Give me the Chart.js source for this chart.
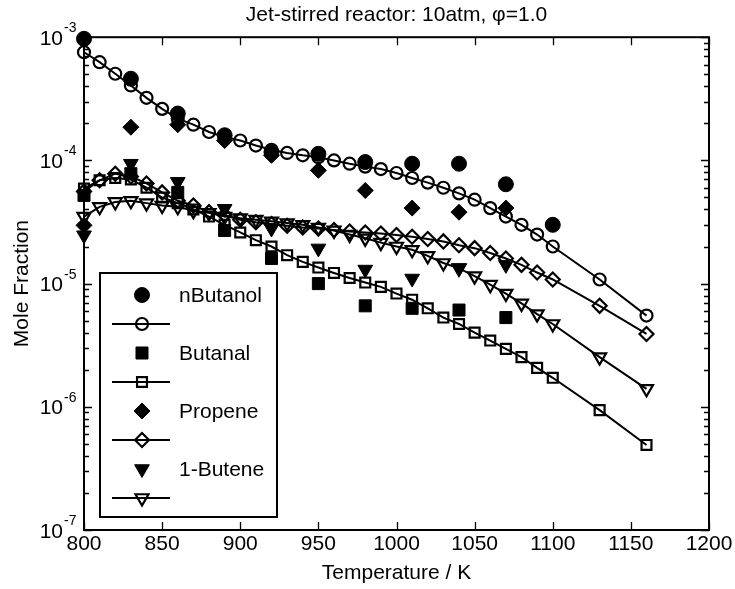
<!DOCTYPE html>
<html><head><meta charset="utf-8">
<script src="https://cdn.jsdelivr.net/npm/chart.js@4/dist/chart.umd.min.js"></script>
<style>html,body{margin:0;padding:0;background:#fff}#wrap{width:735px;height:589px}</style>
</head><body><div id="wrap"><canvas id="c" width="735" height="589"></canvas></div>
<script>
// ---- data ----
const tModel = [800,810,820,830,840,850,860,870,880,890,900,910,920,930,940,950,960,970,980,990,1000,1010,1020,1030,1040,1050,1060,1070,1080,1090,1100,1130,1160];
const tExp = [800,830,860,890,920,950,980,1010,1040,1070,1100];
const nButanolExp = [9.7e-4,4.6e-4,2.4e-4,1.6e-4,1.17e-4,1.13e-4,9.7e-5,9.4e-5,9.4e-5,6.4e-5,3.0e-5];
const nButanolModel = [7.55e-4,6.27e-4,5.05e-4,4.06e-4,3.22e-4,2.62e-4,2.18e-4,1.95e-4,1.70e-4,1.55e-4,1.45e-4,1.32e-4,1.22e-4,1.15e-4,1.10e-4,1.06e-4,1.00e-4,9.4e-5,8.9e-5,8.5e-5,7.9e-5,7.2e-5,6.6e-5,6.0e-5,5.4e-5,4.8e-5,4.1e-5,3.5e-5,3.0e-5,2.5e-5,2.0e-5,1.08e-5,5.5e-6];
const butanalExp = [5.2e-5,7.8e-5,5.5e-5,2.7e-5,1.6e-5,1.0e-5,6.6e-6,6.3e-6,6.1e-6,5.3e-6];
const butanalModel = [5.9e-5,6.9e-5,7.2e-5,7.0e-5,6.0e-5,5.0e-5,4.5e-5,4.0e-5,3.5e-5,3.0e-5,2.6e-5,2.25e-5,2.0e-5,1.7e-5,1.5e-5,1.35e-5,1.22e-5,1.11e-5,1.02e-5,9.4e-6,8.3e-6,7.4e-6,6.3e-6,5.3e-6,4.7e-6,4.0e-6,3.45e-6,2.95e-6,2.53e-6,2.07e-6,1.72e-6,9.4e-7,4.9e-7];
const propeneExp = [2.97e-5,1.86e-4,1.95e-4,1.45e-4,1.1e-4,8.3e-5,5.7e-5,4.1e-5,3.8e-5,4.1e-5];
const propeneModel = [5.6e-5,6.9e-5,7.8e-5,7.4e-5,6.5e-5,5.5e-5,4.7e-5,4.3e-5,3.8e-5,3.6e-5,3.3e-5,3.15e-5,3.05e-5,2.95e-5,2.85e-5,2.8e-5,2.72e-5,2.65e-5,2.6e-5,2.55e-5,2.48e-5,2.4e-5,2.3e-5,2.2e-5,2.05e-5,1.94e-5,1.77e-5,1.6e-5,1.42e-5,1.23e-5,1.08e-5,6.6e-6,3.9e-6];
const buteneExp = [2.47e-5,9.4e-5,6.7e-5,4.05e-5,2.8e-5,1.93e-5,1.3e-5,1.1e-5,1.34e-5,1.42e-5];
const buteneModel = [3.5e-5,4.2e-5,4.6e-5,4.7e-5,4.5e-5,4.3e-5,4.2e-5,3.9e-5,3.75e-5,3.5e-5,3.4e-5,3.3e-5,3.2e-5,3.1e-5,3.0e-5,2.85e-5,2.7e-5,2.5e-5,2.33e-5,2.15e-5,2.0e-5,1.88e-5,1.68e-5,1.47e-5,1.33e-5,1.15e-5,9.8e-6,8.3e-6,6.9e-6,5.65e-6,4.7e-6,2.53e-6,1.4e-6];
const legendLabels = ['nButanol','','Butanal','','Propene','','1-Butene',''];
const xTickValues = [800,850,900,950,1000,1050,1100,1150,1200];
const yTickExponents = [-7,-6,-5,-4,-3];
const titleText = 'Jet-stirred reactor: 10atm, \u03c6=1.0';
const xTitle = 'Temperature / K';
const yTitle = 'Mole Fraction';

const FONT = '"Liberation Sans", Arial, Helvetica, sans-serif';
Chart.defaults.font.family = FONT;
Chart.defaults.color = '#000';

function pts(xs, ys){ return ys.map((v,i)=>({x:xs[i], y:v})); }
function expSet(label, ys, style, r, rot){
  return {label, data: pts(tExp, ys), showLine:false, pointStyle:style, pointRadius:r, pointHoverRadius:r,
    pointRotation:rot||0, backgroundColor:'#000', borderColor:'#000', pointBorderWidth:1, clip:false};
}
function modSet(label, ys, style, r, rot){
  return {label, data: pts(tModel, ys), showLine:true, borderColor:'#000', borderWidth:2, tension:0,
    pointStyle:style, pointRadius:r, pointHoverRadius:r, pointRotation:rot||0,
    pointBackgroundColor:'rgba(0,0,0,0)', pointBorderColor:'#000', pointBorderWidth:2.2,
    backgroundColor:'rgba(0,0,0,0)', fill:false, clip:false};
}
const datasets = [
  expSet('nButanol', nButanolExp, 'circle', 7.5),
  modSet('nButanol model', nButanolModel, 'circle', 6),
  expSet('Butanal', butanalExp, 'rect', 8.5),
  modSet('Butanal model', butanalModel, 'rect', 7),
  expSet('Propene', propeneExp, 'rectRot', 8),
  modSet('Propene model', propeneModel, 'rectRot', 7),
  expSet('1-Butene', buteneExp, 'triangle', 8.5, 180),
  modSet('1-Butene model', buteneModel, 'triangle', 7.5, 180)
];
datasets.forEach((d,i)=>{ d.order = datasets.length - i; });

const axesPlugin = {
  id:'matlabAxes',
  afterDatasetsDraw(chart){
    const ctx = chart.ctx, a = chart.chartArea, xs = chart.scales.x, ys = chart.scales.y;
    ctx.save();
    ctx.strokeStyle = '#000';
    ctx.lineWidth = 2;
    ctx.strokeRect(a.left, a.top, a.right - a.left, a.bottom - a.top);
    ctx.lineWidth = 1.3;
    ctx.beginPath();
    xTickValues.forEach(t=>{
      const px = Math.round(xs.getPixelForValue(t)) + 0.5;
      ctx.moveTo(px, a.bottom); ctx.lineTo(px, a.bottom - 8);
      ctx.moveTo(px, a.top); ctx.lineTo(px, a.top + 8);
    });
    yTickExponents.forEach(e=>{
      const mults = e === yTickExponents[yTickExponents.length-1] ? [1] : [1,2,3,4,5,6,7,8,9];
      mults.forEach(m=>{
        const py = Math.round(ys.getPixelForValue(m * Math.pow(10, e))) + 0.5;
        const len = m === 1 ? 8 : 5;
        ctx.moveTo(a.left, py); ctx.lineTo(a.left + len, py);
        ctx.moveTo(a.right, py); ctx.lineTo(a.right - len, py);
      });
    });
    ctx.stroke();
    // y tick labels 10^n
    ctx.fillStyle = '#000';
    yTickExponents.forEach(e=>{
      const py = ys.getPixelForValue(Math.pow(10, e));
      ctx.font = '21px ' + FONT;
      ctx.textAlign = 'right'; ctx.textBaseline = 'alphabetic';
      ctx.fillText('10', 63, py + 7.5);
      ctx.font = '14px ' + FONT;
      ctx.textAlign = 'left';
      ctx.fillText(String(e), 64, py - 5);
    });
    ctx.restore();
  },
  afterDraw(chart){
    const ctx = chart.ctx;
    const box = {l:100, t:273, r:277, b:517};
    const rowY0 = 295, rowStep = 29;
    ctx.save();
    ctx.fillStyle = '#fff';
    ctx.fillRect(box.l, box.t, box.r - box.l, box.b - box.t);
    ctx.strokeStyle = '#000'; ctx.lineWidth = 2;
    ctx.strokeRect(box.l, box.t, box.r - box.l, box.b - box.t);
    legendLabels.forEach((lab,i)=>{
      const ds = chart.data.datasets[i];
      const y = rowY0 + i * rowStep;
      if (ds.showLine){
        ctx.strokeStyle = '#000'; ctx.lineWidth = 2;
        ctx.beginPath(); ctx.moveTo(112, y); ctx.lineTo(170, y); ctx.stroke();
        ctx.fillStyle = 'rgba(0,0,0,0)';
        ctx.strokeStyle = '#000'; ctx.lineWidth = ds.pointBorderWidth;
        Chart.helpers.drawPoint(ctx, {pointStyle: ds.pointStyle, rotation: ds.pointRotation, radius: ds.pointRadius, borderWidth: ds.pointBorderWidth}, 142, y);
      } else {
        ctx.fillStyle = '#000'; ctx.strokeStyle = '#000'; ctx.lineWidth = 1;
        Chart.helpers.drawPoint(ctx, {pointStyle: ds.pointStyle, rotation: ds.pointRotation, radius: ds.pointRadius, borderWidth: 1}, 142, y);
      }
      if (lab){
        ctx.fillStyle = '#000';
        ctx.font = '21px ' + FONT;
        ctx.textAlign = 'left'; ctx.textBaseline = 'middle';
        ctx.fillText(lab, 179, y + 1);
      }
    });
    ctx.restore();
  }
};

new Chart(document.getElementById('c'), {
  type:'line',
  data:{ datasets },
  options:{
    responsive:false, animation:false, devicePixelRatio:1,
    layout:{ padding:{left:0, right:26, top:0, bottom:0} },
    plugins:{
      legend:{display:false}, tooltip:{enabled:false},
      title:{display:true, text:titleText, fullSize:false, color:'#000',
        font:{size:21, weight:'normal', family:FONT, lineHeight:1.2}, padding:{top:3, bottom:9}}
    },
    scales:{
      x:{ type:'linear', min:800, max:1200,
        ticks:{ stepSize:50, autoSkip:false, maxRotation:0, font:{size:21}, color:'#000', padding:2,
          callback:(v)=> xTickValues.includes(v) ? String(v) : '' },
        grid:{ display:false, drawTicks:false }, border:{display:false},
        title:{ display:true, text:xTitle, font:{size:21}, color:'#000', padding:{top:0, bottom:3} },
        afterFit(s){ s.height = 59; }
      },
      y:{ type:'logarithmic', min:1e-7, max:1e-3,
        ticks:{ display:false }, grid:{ display:false, drawTicks:false }, border:{display:false},
        title:{ display:true, text:yTitle, font:{size:21}, color:'#000', padding:{top:10, bottom:0} },
        afterFit(s){ s.width = 84; }
      }
    }
  },
  plugins:[axesPlugin]
});
</script></body></html>
